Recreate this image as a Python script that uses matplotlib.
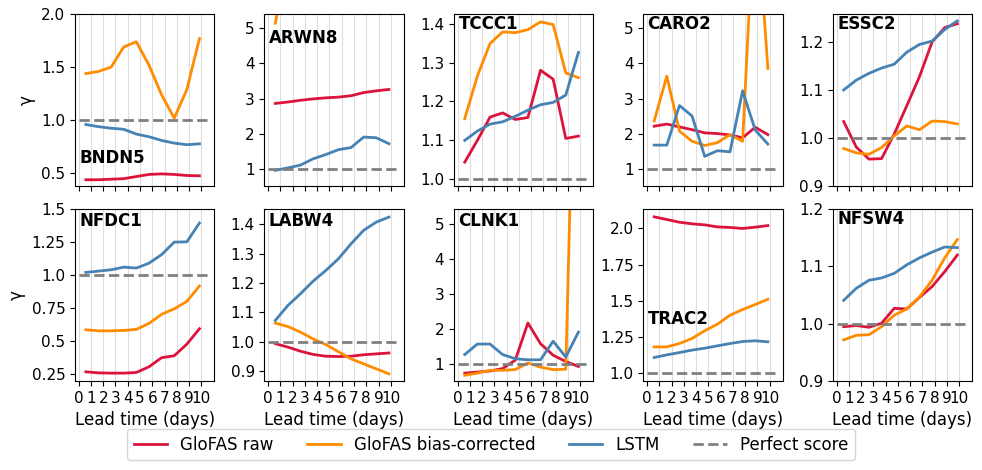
import matplotlib
matplotlib.use("Agg")
import matplotlib.pyplot as plt
import numpy as np

LEAD_TIME = np.arange(1, 11)
TICK_LABELS = [str(i) for i in range(11)]

STATIONS = ['BNDN5', 'ARWN8', 'TCCC1', 'CARO2', 'ESSC2',
            'NFDC1', 'LABW4', 'CLNK1', 'TRAC2', 'NFSW4']

GLOFAS_RAW = {
    'BNDN5': [0.44, 0.44, 0.445, 0.45, 0.47, 0.49, 0.495, 0.49, 0.48, 0.477],
    'ARWN8': [2.86, 2.9, 2.95, 2.99, 3.02, 3.04, 3.08, 3.17, 3.22, 3.26],
    'TCCC1': [1.043, 1.099, 1.159, 1.17, 1.153, 1.158, 1.28, 1.257, 1.104, 1.11],
    'CARO2': [2.21, 2.27, 2.19, 2.11, 2.02, 2.0, 1.96, 1.88, 2.18, 1.97],
    'ESSC2': [1.034, 0.981, 0.956, 0.957, 1.008, 1.067, 1.127, 1.199, 1.229, 1.237],
    'NFDC1': [0.266, 0.258, 0.256, 0.256, 0.261, 0.304, 0.373, 0.388, 0.476, 0.593],
    'LABW4': [0.994, 0.982, 0.968, 0.957, 0.951, 0.95, 0.951, 0.956, 0.959, 0.962],
    'CLNK1': [0.73, 0.76, 0.79, 0.86, 1.1, 2.16, 1.57, 1.24, 1.06, 0.92],
    'TRAC2': [2.078, 2.06, 2.041, 2.03, 2.023, 2.009, 2.005, 1.998, 2.007, 2.018],
    'NFSW4': [0.995, 0.997, 0.994, 1.001, 1.027, 1.026, 1.046, 1.065, 1.091, 1.12],
}

GLOFAS_BC = {
    'BNDN5': [1.44, 1.46, 1.5, 1.69, 1.74, 1.52, 1.24, 1.02, 1.29, 1.77],
    'ARWN8': [5.15, 7.0, 7.4, 7.8, 8.1, 8.4, 8.7, 9.0, 9.3, 9.6],
    'TCCC1': [1.155, 1.265, 1.349, 1.379, 1.377, 1.385, 1.405, 1.398, 1.273, 1.261],
    'CARO2': [2.36, 3.64, 2.07, 1.78, 1.66, 1.74, 1.97, 1.78, 9.0, 3.86],
    'ESSC2': [0.978, 0.969, 0.966, 0.98, 1.004, 1.025, 1.017, 1.035, 1.034, 1.029],
    'NFDC1': [0.585, 0.577, 0.577, 0.58, 0.588, 0.633, 0.702, 0.744, 0.8, 0.917],
    'LABW4': [1.064, 1.052, 1.033, 1.01, 0.991, 0.966, 0.942, 0.925, 0.908, 0.891],
    'CLNK1': [0.67, 0.73, 0.81, 0.81, 0.83, 1.02, 0.9, 0.83, 0.84, 15.0],
    'TRAC2': [1.183, 1.183, 1.206, 1.241, 1.294, 1.339, 1.401, 1.44, 1.475, 1.511],
    'NFSW4': [0.972, 0.98, 0.981, 0.995, 1.015, 1.026, 1.047, 1.076, 1.115, 1.147],
}

LSTM = {
    'BNDN5': [0.96, 0.94, 0.925, 0.915, 0.87, 0.845, 0.81, 0.785, 0.77, 0.778],
    'ARWN8': [0.95, 1.02, 1.1, 1.28, 1.4, 1.54, 1.6, 1.9, 1.88, 1.71],
    'TCCC1': [1.099, 1.123, 1.141, 1.147, 1.161, 1.177, 1.191, 1.197, 1.216, 1.326],
    'CARO2': [1.67, 1.67, 2.8, 2.5, 1.35, 1.51, 1.48, 3.22, 2.1, 1.7],
    'ESSC2': [1.0995, 1.12, 1.134, 1.145, 1.153, 1.178, 1.194, 1.201, 1.225, 1.243],
    'NFDC1': [1.02, 1.03, 1.04, 1.06, 1.053, 1.09, 1.155, 1.25, 1.252, 1.395],
    'LABW4': [1.073, 1.124, 1.164, 1.207, 1.243, 1.283, 1.334, 1.38, 1.408, 1.425],
    'CLNK1': [1.26, 1.56, 1.56, 1.26, 1.14, 1.11, 1.11, 1.64, 1.19, 1.9],
    'TRAC2': [1.11, 1.128, 1.144, 1.161, 1.174, 1.19, 1.206, 1.22, 1.225, 1.218],
    'NFSW4': [1.041, 1.062, 1.076, 1.08, 1.088, 1.103, 1.115, 1.125, 1.134, 1.133],
}

YLIMS = {
    'BNDN5': (0.38, 2.0), 'ARWN8': (0.5, 5.41), 'TCCC1': (0.981, 1.425),
    'CARO2': (0.5, 5.41), 'ESSC2': (0.9, 1.257), 'NFDC1': (0.195, 1.5),
    'LABW4': (0.866, 1.452), 'CLNK1': (0.5, 5.41), 'TRAC2': (0.947, 2.131),
    'NFSW4': (0.9, 1.2),
}
YTICKS = {
    'BNDN5': [0.5, 1.0, 1.5, 2.0], 'ARWN8': [1, 2, 3, 4, 5],
    'TCCC1': [1.0, 1.1, 1.2, 1.3, 1.4], 'CARO2': [1, 2, 3, 4, 5],
    'ESSC2': [0.9, 1.0, 1.1, 1.2], 'NFDC1': [0.25, 0.5, 0.75, 1.0, 1.25, 1.5],
    'LABW4': [0.9, 1.0, 1.1, 1.2, 1.3, 1.4], 'CLNK1': [1, 2, 3, 4, 5],
    'TRAC2': [1.0, 1.25, 1.5, 1.75, 2.0], 'NFSW4': [0.9, 1.0, 1.1, 1.2],
}
YTICK_LABELS = {
    'NFDC1': ['0.25', '0.5', '0.75', '1.0', '1.25', '1.5'],
    'TRAC2': ['1.0', '1.25', '1.5', '1.75', '2.0'],
}
# station label position (axes fraction)
LABEL_POS = {
    'BNDN5': (0.035, 0.165), 'ARWN8': (0.03, 0.86), 'TCCC1': (0.035, 0.94),
    'CARO2': (0.03, 0.94), 'ESSC2': (0.03, 0.94), 'NFDC1': (0.035, 0.93),
    'LABW4': (0.03, 0.93), 'CLNK1': (0.03, 0.93), 'TRAC2': (0.035, 0.36),
    'NFSW4': (0.03, 0.94),
}

# tick positions relative to the lead-time axis
tick_pos = 0.437 + 0.971 * np.arange(11)

fig = plt.figure(figsize=(9.82, 4.7), dpi=100)
axes = fig.subplots(2, 5)
fig.subplots_adjust(left=0.0764, right=0.9898, top=0.970, bottom=0.189,
                    wspace=0.362, hspace=0.134)

for i, (ax, st) in enumerate(zip(axes.flat, STATIONS)):
    ax.plot(LEAD_TIME, GLOFAS_RAW[st], color='crimson', lw=2, label='GloFAS raw')
    ax.plot(LEAD_TIME, GLOFAS_BC[st], color='darkorange', lw=2, label='GloFAS bias-corrected')
    ax.plot(LEAD_TIME, LSTM[st], color='steelblue', lw=2, label='LSTM')
    ax.plot([tick_pos[0], 10.58], [1, 1], '--', color='grey', lw=2, label='Perfect score')
    ax.set_xlim(0.146, 11.16)
    ax.set_xticks(tick_pos)
    ax.set_ylim(*YLIMS[st])
    ax.set_yticks(YTICKS[st])
    if st in YTICK_LABELS:
        ax.set_yticklabels(YTICK_LABELS[st])
    ax.grid(axis='x', color='#dddddd', lw=0.8)
    ax.set_axisbelow(True)
    ax.tick_params(labelsize=11)
    if i >= 5:
        ax.set_xticklabels(TICK_LABELS)
        ax.set_xlabel('Lead time (days)', fontsize=12)
    else:
        ax.set_xticklabels([])
    if i % 5 == 0:
        ax.set_ylabel('γ', fontsize=12)
    tx, ty = LABEL_POS[st]
    ax.text(tx, ty, st, transform=ax.transAxes, fontsize=12, fontweight='bold',
            ha='left', va='center')

handles, labels = axes[0, 0].get_legend_handles_labels()
fig.legend(handles, labels, loc='lower center', ncol=4, fontsize=12,
           bbox_to_anchor=(0.5, 0.003))

fig.savefig('out.png', dpi=100)
